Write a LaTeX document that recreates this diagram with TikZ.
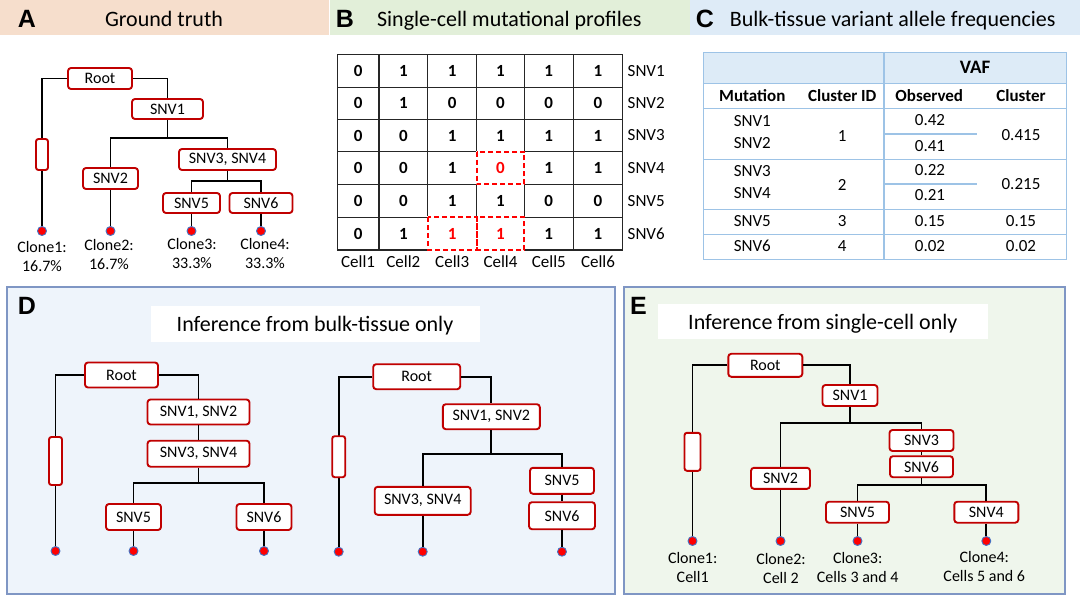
\documentclass[tikz,border=0pt]{standalone}
\usepackage{fontspec}
\setmainfont{Carlito}
\newfontfamily\letterfont{Liberation Sans}
\definecolor{boxred}{HTML}{C00000}
\definecolor{hdrA}{HTML}{F6DECC}
\definecolor{hdrB}{HTML}{E2EFD9}
\definecolor{hdrC}{HTML}{DEEBF7}
\definecolor{panelD}{HTML}{EEF4FB}
\definecolor{panelE}{HTML}{EFF6EC}
\definecolor{panelborder}{HTML}{7F96C4}
\definecolor{tblline}{HTML}{9DC3E6}
\definecolor{tblhead}{HTML}{DDEBF7}
\definecolor{dotblue}{HTML}{4472C4}
\tikzset{
  tbox/.style={draw=boxred, line width=1.9pt, fill=white, rounded corners=3pt, inner sep=0pt, font=\fontsize{16}{18}\selectfont},
  ebox/.style={draw=boxred, line width=1.9pt, fill=white, rounded corners=2.5pt, inner sep=0pt},
  dot/.style={circle, fill=red, draw=dotblue, line width=0.9pt, minimum size=9pt, inner sep=0pt},
  tline/.style={line width=1.9pt, black},
  lab/.style={align=center, inner sep=0pt, font=\fontsize{16}{19}\selectfont},
  letter/.style={inner sep=0pt, font=\letterfont\bfseries\fontsize{25}{25}\selectfont},
  hdr/.style={inner sep=0pt, anchor=base, font=\fontsize{22}{24}\selectfont},
  gline/.style={line width=1.5pt, black!85},
  mval/.style={inner sep=0pt, font=\bfseries\fontsize{17}{18}\selectfont},
  blab/.style={inner sep=0pt, font=\fontsize{17}{18}\selectfont},
  tlin/.style={line width=1.5pt, tblline},
  ttxt/.style={inner sep=0pt, font=\fontsize{17}{18}\selectfont},
  tbold/.style={inner sep=0pt, font=\bfseries\fontsize{17}{18}\selectfont},
  redcell/.style={red, dashed, line width=1.8pt, dash pattern=on 5pt off 3pt},
}
\begin{document}
\begin{tikzpicture}[x=1pt, y=-1pt]
\useasboundingbox (0,0) rectangle (1080,596);
\fill[white] (0,0) rectangle (1080,596);
% ===== headers =====
\fill[hdrA] (0,0) rectangle (329,35);
\fill[hdrB] (330,0) rectangle (690,35);
\fill[hdrC] (690,0) rectangle (1080,35);
\node[letter] (LA) at (27,19) {A};
\node[letter] (LB) at (345,19) {B};
\node[letter] (LC) at (705,19) {C};
\node[hdr] (HA) at (164,26.5) {Ground truth};
\node[hdr] (HB) at (509.3,26.5) {Single-cell mutational profiles};
\node[hdr] (HC) at (892.7,26.5) {Bulk-tissue variant allele frequencies};

% ===== Panel A =====
\node[tbox,minimum width=64pt,minimum height=21pt] (aroot) at (100,78.5) {Root};
\node[tbox,minimum width=71pt,minimum height=20pt] (asnv1) at (167.5,109) {SNV1};
\node[tbox,minimum width=55pt,minimum height=21pt] (asnv2) at (110.5,178.5) {SNV2};
\node[tbox,minimum width=97pt,minimum height=21pt] (asnv34) at (227.5,159.5) {SNV3, SNV4};
\node[tbox,minimum width=57pt,minimum height=20pt] (asnv5) at (191.5,203) {SNV5};
\node[tbox,minimum width=63pt,minimum height=20pt] (asnv6) at (261,203) {SNV6};
\node[dot] (ad1) at (42,231) {};
\node[dot] (ad2) at (110.5,231) {};
\node[dot] (ad3) at (191.5,231) {};
\node[dot] (ad4) at (261,231) {};
\coordinate (aj1) at (167.5,138);
\coordinate (aj2) at (227.5,181);
\draw[tline] (aroot.west) -| (ad1);
\node[ebox,minimum width=12pt,minimum height=31pt] (ae1) at (42,154.5) {};
\draw[tline] (aroot.east) -| (asnv1);
\draw[tline] (asnv1) -- (aj1);
\draw[tline] (asnv2) |- (aj1) -| (asnv34);
\draw[tline] (asnv34) -- (aj2);
\draw[tline] (asnv5) |- (aj2) -| (asnv6);
\draw[tline] (asnv2) -- (ad2);
\draw[tline] (asnv5) -- (ad3);
\draw[tline] (asnv6) -- (ad4);
\node[lab] (al1) at (42,257) {Clone1:\\16.7\%};
\node[lab] (al2) at (109,254.5) {Clone2:\\16.7\%};
\node[lab] (al3) at (192,254) {Clone3:\\33.3\%};
\node[lab] (al4) at (265,254) {Clone4:\\33.3\%};

% ===== Panel B =====
\foreach \x in {337.3,379,427.7,476.7,524.3,573.3,622.7} \draw[gline] (\x,54.3) -- (\x,250);
\foreach \y in {54.3,87.3,119.3,151.7,184.3,217.3,250} \draw[gline] (337.3,\y) -- (622.7,\y);
\foreach \y/\vals/\nm [count=\i] in {70.8/{0,1,1,1,1,1}/SNV1, 103.3/{0,1,0,0,0,0}/SNV2, 135.5/{0,0,1,1,1,1}/SNV3, 168/{0,0,1,,1,1}/SNV4, 200.8/{0,0,1,1,0,0}/SNV5, 233.65/{0,1,,,1,1}/SNV6}{
  \foreach \v [count=\c] in \vals {
    \pgfmathparse{{358.15,403.35,452.2,500.5,548.8,598}[\c-1]}
    \node[mval] (m\i-\c) at (\pgfmathresult,\y) {\v};
  }
  \node[blab, anchor=west] (rl\i) at (627.5,\y) {\nm};
}
\foreach \x/\nm [count=\c] in {358.15/Cell1,403.35/Cell2,452.2/Cell3,500.5/Cell4,548.8/Cell5,598/Cell6}
  \node[blab] (cl\c) at (\x,262) {\nm};
\draw[white, line width=2pt] (476.7,151.7) rectangle (524.3,184.3);
\draw[white, line width=2pt] (427.7,217.3) rectangle (476.7,250);
\draw[white, line width=2pt] (476.7,217.3) rectangle (524.3,250);
\draw[redcell] (476.7,151.7) rectangle (524.3,184.3);
\draw[redcell] (427.7,217.3) rectangle (476.7,250);
\draw[redcell] (476.7,217.3) rectangle (524.3,250);
\node[mval, text=red] (r44) at (500.5,168) {0};
\node[mval, text=red] (r63) at (452.2,233.65) {1};
\node[mval, text=red] (r64) at (500.5,233.65) {1};

% ===== Panel C =====
\fill[tblhead] (703.3,52.3) rectangle (1066.7,83.3);
\draw[tlin] (703.3,52.3) rectangle (1066.7,259.3);
\foreach \y in {83.3,108.3,159.3,209.3,234.3} \draw[tlin] (703.3,\y) -- (1066.7,\y);
\draw[tlin] (884,52.3) -- (884,259.3);
\draw[tlin] (884,134) -- (976.7,134);
\draw[tlin] (884,184) -- (976.7,184);
\node[inner sep=0pt, font=\bfseries\fontsize{19}{20}\selectfont] (vaf) at (975,67.5) {VAF};
\node[tbold] (h1) at (752.3,96) {Mutation};
\node[tbold] (h2) at (842.3,96) {Cluster ID};
\node[tbold] (h3) at (929.3,96) {Observed};
\node[tbold] (h4) at (1021,96) {Cluster};
\node[ttxt] (c11) at (752.3,120.7) {SNV1};
\node[ttxt] (c12) at (752.3,142.7) {SNV2};
\node[ttxt] (c13) at (842.3,136) {1};
\node[ttxt] (c14) at (930,120) {0.42};
\node[ttxt] (c15) at (930,145.7) {0.41};
\node[ttxt] (c16) at (1021,135) {0.415};
\node[ttxt] (c21) at (752.3,170.7) {SNV3};
\node[ttxt] (c22) at (752.3,192.7) {SNV4};
\node[ttxt] (c23) at (842.3,185) {2};
\node[ttxt] (c24) at (930,170.3) {0.22};
\node[ttxt] (c25) at (930,195) {0.21};
\node[ttxt] (c26) at (1021,184.3) {0.215};
\node[ttxt] (c31) at (752.3,220.7) {SNV5};
\node[ttxt] (c32) at (842.3,220.7) {3};
\node[ttxt] (c33) at (930,220.7) {0.15};
\node[ttxt] (c34) at (1021,220.7) {0.15};
\node[ttxt] (c41) at (752.3,245.7) {SNV6};
\node[ttxt] (c42) at (842.3,245.7) {4};
\node[ttxt] (c43) at (930,245.7) {0.02};
\node[ttxt] (c44) at (1021,245.7) {0.02};

% ===== Panel D =====
\draw[panelborder, fill=panelD, line width=2pt] (7,287) rectangle (615,594);
\fill[white] (151,306) rectangle (480,342);
\node[letter] (LD) at (27,306) {D};
\node[hdr] (HD) at (315,331.7) {Inference from bulk-tissue only};
% left tree
\node[tbox,minimum width=73pt,minimum height=25pt] (droot) at (121.5,375) {Root};
\node[tbox,minimum width=102pt,minimum height=25pt] (dsnv12) at (198.5,412) {SNV1, SNV2};
\node[tbox,minimum width=102pt,minimum height=26pt] (dsnv34) at (198.5,453.7) {SNV3, SNV4};
\node[tbox,minimum width=55pt,minimum height=26pt] (dsnv5) at (133.5,517) {SNV5};
\node[tbox,minimum width=55pt,minimum height=26pt] (dsnv6) at (264,517) {SNV6};
\node[dot] (dd1) at (55.5,551) {};
\node[dot] (dd2) at (133.5,551) {};
\node[dot] (dd3) at (264,551) {};
\coordinate (dj1) at (198.5,483.3);
\draw[tline] (droot.west) -| (dd1);
\node[ebox,minimum width=13pt,minimum height=48pt] (de1) at (55.5,461) {};
\draw[tline] (droot.east) -| (dsnv12);
\draw[tline] (dsnv12) -- (dsnv34);
\draw[tline] (dsnv34) -- (dj1);
\draw[tline] (dsnv5) |- (dj1) -| (dsnv6);
\draw[tline] (dsnv5) -- (dd2);
\draw[tline] (dsnv6) -- (dd3);
% right tree
\node[tbox,minimum width=87pt,minimum height=25pt] (eroot) at (416.7,376.7) {Root};
\node[tbox,minimum width=97pt,minimum height=25pt] (esnv12) at (491.3,416.7) {SNV1, SNV2};
\node[tbox,minimum width=96pt,minimum height=28pt] (esnv34) at (422.7,500.8) {SNV3, SNV4};
\node[tbox,minimum width=64pt,minimum height=26pt] (esnv5) at (562,480.8) {SNV5};
\node[tbox,minimum width=66pt,minimum height=27pt] (esnv6) at (562,515.7) {SNV6};
\node[dot] (ed1) at (338.7,551.7) {};
\node[dot] (ed2) at (422.7,551.7) {};
\node[dot] (ed3) at (562,551.7) {};
\coordinate (ej1) at (491.3,454.3);
\draw[tline] (eroot.west) -| (ed1);
\node[ebox,minimum width=13pt,minimum height=41pt] (ee1) at (338.7,456.7) {};
\draw[tline] (eroot.east) -| (esnv12);
\draw[tline] (esnv12) -- (ej1);
\draw[tline] (esnv34) |- (ej1) -| (esnv5);
\draw[tline] (esnv5) -- (esnv6);
\draw[tline] (esnv34) -- (ed2);
\draw[tline] (esnv6) -- (ed3);

% ===== Panel E =====
\draw[panelborder, fill=panelE, line width=2pt] (624,287) rectangle (1065,594);
\fill[white] (658,304) rectangle (988,339);
\node[letter] (LE) at (638.5,306) {E};
\node[hdr] (HE) at (822.8,330) {Inference from single-cell only};
\node[tbox,minimum width=74pt,minimum height=23pt] (sroot) at (765.3,365.3) {Root};
\node[tbox,minimum width=55pt,minimum height=21pt] (ssnv1) at (850,395.5) {SNV1};
\node[tbox,minimum width=59pt,minimum height=21pt] (ssnv2) at (780.5,478.3) {SNV2};
\node[tbox,minimum width=64pt,minimum height=21pt] (ssnv3) at (921.5,440.5) {SNV3};
\node[tbox,minimum width=63pt,minimum height=21pt] (ssnv6) at (921.5,466.7) {SNV6};
\node[tbox,minimum width=63pt,minimum height=21pt] (ssnv5) at (857.5,512.2) {SNV5};
\node[tbox,minimum width=64pt,minimum height=21pt] (ssnv4) at (986.3,512.2) {SNV4};
\node[dot] (sd1) at (692.5,541) {};
\node[dot] (sd2) at (780.5,541) {};
\node[dot] (sd3) at (857.5,541) {};
\node[dot] (sd4) at (986.3,541) {};
\coordinate (sj1) at (850,423.3);
\coordinate (sj2) at (921.5,485);
\draw[tline] (sroot.west) -| (sd1);
\node[ebox,minimum width=16pt,minimum height=38pt] (se1) at (692.5,451.8) {};
\draw[tline] (sroot.east) -| (ssnv1);
\draw[tline] (ssnv1) -- (sj1);
\draw[tline] (ssnv2) |- (sj1) -| (ssnv3);
\draw[tline] (ssnv3) -- (ssnv6);
\draw[tline] (ssnv6) -- (sj2);
\draw[tline] (ssnv5) |- (sj2) -| (ssnv4);
\draw[tline] (ssnv2) -- (sd2);
\draw[tline] (ssnv5) -- (sd3);
\draw[tline] (ssnv4) -- (sd4);
\node[lab] (sl1) at (692.7,567.8) {Clone1:\\Cell1};
\node[lab] (sl2) at (781,568.8) {Clone2:\\Cell 2};
\node[lab] (sl3) at (857.7,567.8) {Clone3:\\Cells 3 and 4};
\node[lab] (sl4) at (984.3,567) {Clone4:\\Cells 5 and 6};
\end{tikzpicture}
\end{document}
